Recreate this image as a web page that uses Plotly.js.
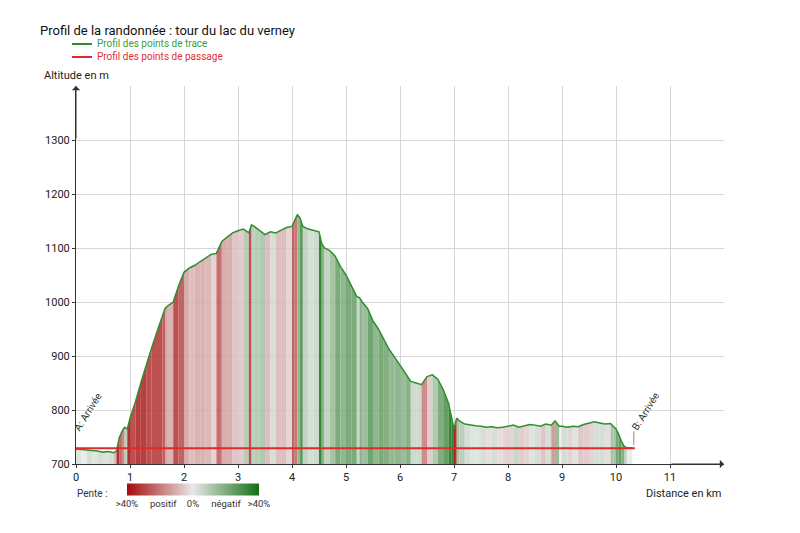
<!DOCTYPE html>
<html>
<head>
<meta charset="utf-8">
<script src="https://cdn.plot.ly/plotly-3.0.1.min.js"></script>
<style>html,body{margin:0;padding:0;background:#fff;}#chart{width:800px;height:533px;}</style>
</head>
<body>
<div id="chart"></div>
<script>
// Distance (km) along the track
const distKm = [0.00,0.10,0.20,0.30,0.40,0.50,0.60,0.70,0.75,0.80,0.85,0.90,0.95,1.00,1.10,1.20,1.30,1.40,1.50,1.60,1.65,1.70,1.80,1.90,2.00,2.10,2.20,2.30,2.40,2.50,2.60,2.70,2.80,2.90,3.00,3.10,3.20,3.25,3.30,3.40,3.50,3.60,3.70,3.80,3.90,4.00,4.05,4.10,4.15,4.20,4.30,4.40,4.50,4.55,4.60,4.70,4.80,4.90,5.00,5.10,5.20,5.25,5.30,5.40,5.50,5.60,5.70,5.80,5.90,6.00,6.10,6.20,6.30,6.40,6.50,6.60,6.70,6.80,6.90,6.95,7.00,7.05,7.10,7.20,7.30,7.40,7.50,7.60,7.70,7.80,7.90,8.00,8.10,8.20,8.30,8.40,8.50,8.60,8.70,8.80,8.87,8.95,9.00,9.10,9.20,9.30,9.40,9.50,9.60,9.70,9.80,9.90,9.95,10.00,10.05,10.10,10.15,10.20,10.30];
// Altitude (m) of the track points
const altM = [728,727,727,725,724,722,723,721,724,748,760,768,765,785,815,850,885,915,945,975,988,993,1000,1030,1055,1063,1068,1075,1082,1088,1090,1112,1120,1128,1132,1135,1128,1143,1140,1133,1125,1130,1128,1133,1138,1140,1152,1162,1155,1140,1135,1133,1130,1108,1100,1095,1085,1065,1050,1030,1010,1008,1000,988,965,950,930,912,898,883,870,853,850,847,862,865,857,838,812,790,765,785,780,774,772,771,770,768,769,767,768,770,772,768,771,773,772,770,774,772,780,770,770,768,770,769,773,776,778,776,774,775,770,765,755,742,733,730,730];
// Passage points (A start, B end)
const passDist = [0, 10.35];
const passAlt = [729, 729];
const passLabels = ['A: Arrivée', 'B: Arrivée'];
// Series names (legend)
const seriesNames = ['Profil des points de trace', 'Profil des points de passage'];
// Axis ticks
const xTicks = [0,1,2,3,4,5,6,7,8,9,10,11];
const yTicks = [700,800,900,1000,1100,1200,1300];
// Slope legend
const slopeTickVals = [-40,-18,0,20,40];
const slopeTickText = ['>40%','positif','0%','négatif','>40%'];

const BASE = 700;
const red = [165,10,10], mid = [232,232,232], green = [20,110,20];
function slopeColor(p){ // p: slope in %, positive = climbing
  let t = Math.max(-1, Math.min(1, p/40));
  let c1 = t>0 ? red : green, a = Math.pow(Math.abs(t), 0.7);
  const c = mid.map((v,k)=>Math.round(v+(c1[k]-v)*a));
  return 'rgba('+c[0]+','+c[1]+','+c[2]+',0.85)';
}

const px2x = px => (px-76)/648, px2y = py => (464-py)/378;

const traces = [];
const slopes = [], mids = [], midAlt = [];
for(let i=0;i<distKm.length-1;i++){
  const dx = (distKm[i+1]-distKm[i])*1000;
  const p = (altM[i+1]-altM[i])/dx*100;
  slopes.push(-p); mids.push((distKm[i]+distKm[i+1])/2); midAlt.push((altM[i]+altM[i+1])/2);
  traces.push({
    type:'scatter', mode:'none', fill:'toself', fillcolor:slopeColor(p),
    x:[distKm[i],distKm[i],distKm[i+1],distKm[i+1]],
    y:[BASE,altM[i],altM[i+1],BASE],
    showlegend:false, hoverinfo:'skip'
  });
}
// colorbar carrier (slope legend)
traces.push({
  type:'scatter', mode:'markers', x:mids, y:midAlt, showlegend:false, hoverinfo:'skip',
  marker:{size:1, opacity:0, color:slopes, cmin:-40, cmax:40,
    colorscale:[[0,'rgb(165,10,10)'],[0.5,'rgb(232,232,232)'],[1,'rgb(20,110,20)']],
    showscale:true,
    colorbar:{orientation:'h', x:px2x(193), xanchor:'center', y:px2y(495), yanchor:'middle',
      len:132, lenmode:'pixels', thickness:12, outlinewidth:0, xpad:0, ypad:0,
      tickvals:slopeTickVals, ticktext:slopeTickText, ticks:'', ticklabelposition:'outside bottom',
      tickfont:{size:9.5, color:'#333', family:'Roboto'}}
  }
});
traces.push({type:'scatter', mode:'lines', x:distKm, y:altM, name:seriesNames[0], showlegend:false,
  line:{color:'#2f8f2f', width:1.5}, hoverinfo:'skip'});
traces.push({type:'scatter', mode:'lines', x:passDist, y:passAlt, name:seriesNames[1], showlegend:false,
  line:{color:'#e02a2a', width:2}, hoverinfo:'skip'});

const annotations = [
  {xref:'paper', yref:'paper', x:px2x(95), y:px2y(44), xanchor:'left', yanchor:'middle', showarrow:false,
   text:seriesNames[0], font:{size:10, color:'#3a9e3a', family:'Roboto'}},
  {xref:'paper', yref:'paper', x:px2x(95), y:px2y(57), xanchor:'left', yanchor:'middle', showarrow:false,
   text:seriesNames[1], font:{size:10, color:'#e03030', family:'Roboto'}},
  {xref:'paper', yref:'paper', x:px2x(42), y:px2y(76), xanchor:'left', yanchor:'middle', showarrow:false,
   text:'Altitude en m', font:{size:11, color:'#222', family:'Roboto'}},
  {xref:'paper', yref:'paper', x:px2x(723), y:px2y(493), xanchor:'right', yanchor:'middle', showarrow:false,
   text:'Distance en km', font:{size:11, color:'#222', family:'Roboto'}},
  {xref:'paper', yref:'paper', x:px2x(75), y:px2y(493), xanchor:'left', yanchor:'middle', showarrow:false,
   text:'Pente :', font:{size:10, color:'#333', family:'Roboto'}},
  {x:0.22, y:798, text:passLabels[0], textangle:-58, showarrow:false, font:{size:10, color:'#333', family:'Roboto'}},
  {x:10.54, y:798, text:passLabels[1], textangle:-58, showarrow:false, font:{size:10, color:'#333', family:'Roboto'}},
  {x:passDist[1]-0.02, y:735, ax:passDist[1]-0.02, ay:763, axref:'x', ayref:'y', showarrow:true, arrowhead:0, arrowwidth:1, arrowcolor:'#888', text:''},
  {x:0, y:1400, ax:0, ay:1300, axref:'x', ayref:'y', showarrow:true, arrowhead:1, arrowsize:1.4, arrowwidth:1, arrowcolor:'#333', text:''},
  {x:12, y:700, ax:11, ay:700, axref:'x', ayref:'y', showarrow:true, arrowhead:1, arrowsize:1.4, arrowwidth:1, arrowcolor:'#333', text:''}
];

const shapes = [
  {type:'line', xref:'paper', yref:'paper', x0:px2x(72), x1:px2x(92), y0:px2y(44), y1:px2y(44), line:{color:'#2f8f2f', width:2}},
  {type:'line', xref:'paper', yref:'paper', x0:px2x(72), x1:px2x(92), y0:px2y(57), y1:px2y(57), line:{color:'#e02a2a', width:2}}
];

const layout = {
  width:800, height:533,
  margin:{l:76, r:76, t:86, b:69},
  paper_bgcolor:'#fff', plot_bgcolor:'#fff',
  font:{family:'Roboto', color:'#333'},
  title:{text:'Profil de la randonnée : tour du lac du verney', x:40/800, xanchor:'left', y:1-30/533, yanchor:'middle', xref:'container', yref:'container',
    font:{size:13, color:'#111', family:'Roboto'}},
  showlegend:false,
  xaxis:{range:[0,12], tickvals:xTicks, showgrid:true, gridcolor:'#d6d6d6', gridwidth:1, zeroline:false,
    showline:true, linecolor:'#333', linewidth:1, ticks:'outside', ticklen:3, tickcolor:'#333',
    tickfont:{size:11, color:'#222', family:'Roboto'}},
  yaxis:{range:[700,1400], tickvals:yTicks, showgrid:true, gridcolor:'#d6d6d6', gridwidth:1, zeroline:false,
    showline:true, linecolor:'#333', linewidth:1, ticks:'outside', ticklen:3, tickcolor:'#333',
    tickfont:{size:11, color:'#222', family:'Roboto'}},
  annotations:annotations,
  shapes:shapes
};
Plotly.newPlot('chart', traces, layout, {staticPlot:true, displayModeBar:false});
</script>
</body>
</html>
